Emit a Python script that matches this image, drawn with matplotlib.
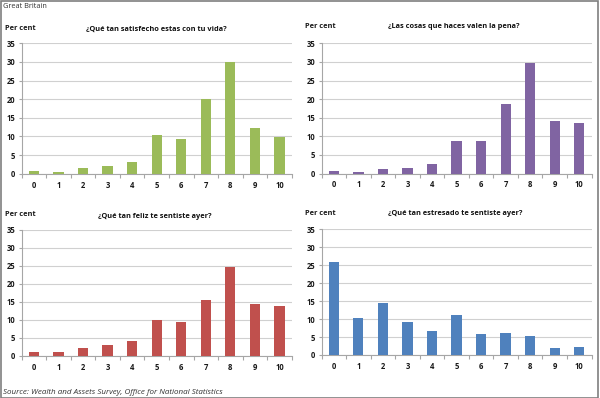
import matplotlib
matplotlib.use("Agg")
import matplotlib.pyplot as plt
import matplotlib.patches as mpatches
import numpy as np

plt.rcParams['font.family'] = ['Open Sans', 'DejaVu Sans']

# Data (per cent of respondents per score 0-10)
scores = list(range(11))
satisfied = [0.8, 0.4, 1.4, 2.0, 3.1, 10.3, 9.4, 20.0, 30.0, 12.4, 9.8]
worthwhile = [0.6, 0.3, 1.1, 1.6, 2.5, 8.8, 8.8, 18.8, 29.8, 14.1, 13.6]
happy = [1.1, 1.0, 2.1, 3.1, 4.0, 9.9, 9.4, 15.6, 24.7, 14.4, 13.8]
anxious = [26.0, 10.3, 14.6, 9.2, 6.8, 11.1, 5.9, 6.0, 5.3, 2.0, 2.1]

titles = [
    "¿Qué tan satisfecho estas con tu vida?",
    "¿Las cosas que haces valen la pena?",
    "¿Qué tan feliz te sentiste ayer?",
    "¿Qué tan estresado te sentiste ayer?",
]
series = [satisfied, worthwhile, happy, anxious]
colors = ["#9bbb59", "#8064a2", "#c0504d", "#4f81bd"]
y_ticks = [0, 5, 10, 15, 20, 25, 30, 35]

W, H = 600, 398
fig = plt.figure(figsize=(6, 3.98), dpi=100)

# axes boxes in pixels: left, top (35 line), right, bottom (0 line)
boxes = [
    (21.7, 43.3, 291.7, 173.7),
    (321.7, 43.3, 591.5, 173.5),
    (21.7, 229.7, 291.7, 355.7),
    (321.5, 229.3, 591.5, 355.0),
]
title_pos = [(156, 29), (454, 27), (155, 217), (455, 213)]
percent_pos = [(5, 28), (305, 26), (5, 215), (305, 213)]

for i in range(4):
    l, t, r, b = boxes[i]
    ax = fig.add_axes([l / W, 1 - b / H, (r - l) / W, (b - t) / H])
    ax.bar(scores, series[i], width=0.42, color=colors[i], zorder=3)
    ax.set_xlim(-0.5, 10.5)
    ax.set_ylim(0, 35)
    ax.set_yticks(y_ticks)
    ax.set_xticks(scores)
    ax.set_xticks(np.arange(-0.5, 11, 1), minor=True)
    ax.grid(axis='y', color='#d0d0d0', linewidth=0.8, zorder=0)
    for s in ['top', 'right']:
        ax.spines[s].set_visible(False)
    ax.spines['left'].set_color('#a6a6a6')
    ax.spines['bottom'].set_color('#a6a6a6')
    ax.spines['left'].set_linewidth(0.8)
    ax.spines['bottom'].set_linewidth(0.8)
    ax.tick_params(axis='x', which='major', length=0, pad=5,
                   labelsize=5.5, labelcolor='#1a1a1a')
    ax.tick_params(axis='x', which='minor', length=3, color='#a6a6a6', width=0.8)
    ax.tick_params(axis='y', length=2.5, color='#a6a6a6', width=0.8, pad=2,
                   labelsize=5.5, labelcolor='#1a1a1a')
    for lab in ax.get_xticklabels() + ax.get_yticklabels():
        lab.set_fontweight('bold')

    tx, ty = title_pos[i]
    fig.text(tx / W, 1 - ty / H, titles[i], ha='center', va='center',
             fontsize=5.3, fontweight='bold', color='#111111')
    px, py = percent_pos[i]
    fig.text(px / W, 1 - py / H, "Per cent", ha='left', va='center',
             fontsize=5.3, fontweight='bold', color='#1a1a1a')

fig.text(3 / W, 1 - 7 / H, "Great Britain", ha='left', va='center',
         fontsize=5.3, color='#333333')
fig.text(3 / W, 1 - 392 / H,
         "Source: Wealth and Assets Survey, Office for National Statistics",
         ha='left', va='center', fontsize=5.8, style='italic', color='#333333')

# outer frame
fig.patches.append(mpatches.Rectangle((0.5 / W, 0.5 / H), 597.5 / W, 397 / H,
                                      transform=fig.transFigure, fill=False,
                                      edgecolor='#7f7f7f', linewidth=1.2))

fig.savefig("out.png", dpi=100)
